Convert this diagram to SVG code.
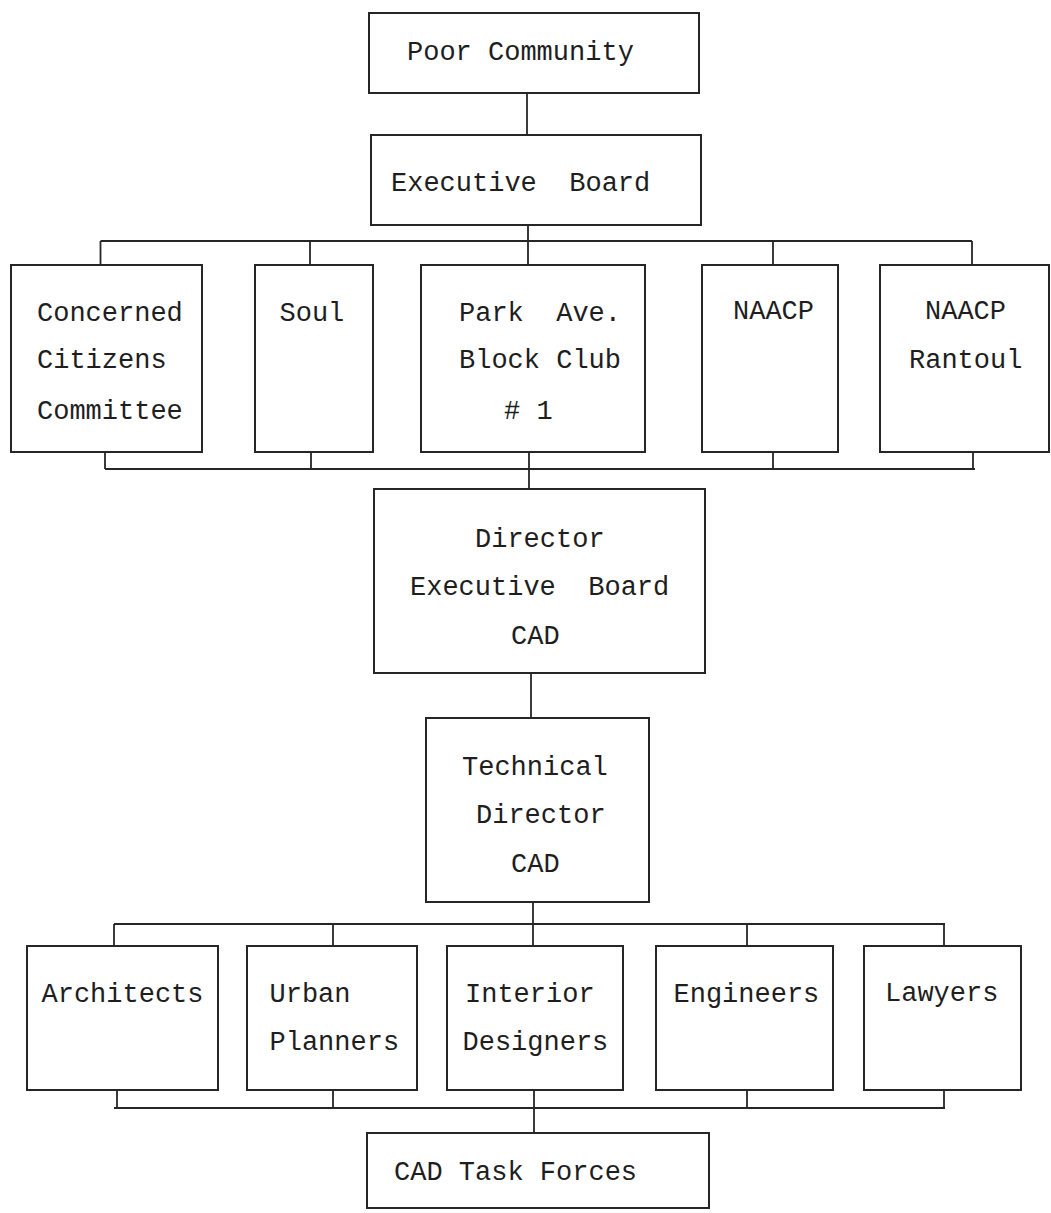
<svg xmlns="http://www.w3.org/2000/svg" width="1051" height="1213" viewBox="0 0 1051 1213">
<style>
.box{fill:none;stroke:#262626;stroke-width:2}
.ln{fill:none;stroke:#262626;stroke-width:1.8}
text{font-family:"Liberation Mono","DejaVu Sans Mono",monospace;font-size:27px;fill:#1e1e1e}
</style>
<rect width="1051" height="1213" fill="#ffffff"/>
<g id="connectors">
<path class="ln" d="M527,93 V135"/>
<path class="ln" d="M528,225 V241 M100.5,241 H972 M100.5,241 V265 M310,241 V265 M528,241 V265 M773,241 V265 M972,241 V265"/>
<path class="ln" d="M105,452 V469 M311,452 V469 M529,452 V469 M773,452 V469 M973,452 V469 M105,469 H975 M529,469 V489"/>
<path class="ln" d="M531,673 V718"/>
<path class="ln" d="M533,902 V924 M114,924 H945 M114,924 V946 M333,924 V946 M533,924 V946 M747,924 V946 M944,924 V946"/>
<path class="ln" d="M117,1090 V1108 M333,1090 V1108 M534,1090 V1108 M747,1090 V1108 M944,1090 V1108 M114,1108 H945 M534,1108 V1133"/>
</g>
<g id="poor-community">
<rect class="box" x="369" y="13" width="330" height="80"/>
<text x="407" y="60">Poor Community</text>
</g>
<g id="executive-board">
<rect class="box" x="371" y="135" width="330" height="90"/>
<text x="391" y="191" xml:space="preserve">Executive  Board</text>
</g>
<g id="concerned-citizens">
<rect class="box" x="11" y="265" width="191" height="187"/>
<text x="37" y="321">Concerned</text>
<text x="37" y="368">Citizens</text>
<text x="37" y="419">Committee</text>
</g>
<g id="soul">
<rect class="box" x="255" y="265" width="118" height="187"/>
<text x="279.5" y="321">Soul</text>
</g>
<g id="park-ave">
<rect class="box" x="421" y="265" width="224" height="187"/>
<text x="459" y="321" xml:space="preserve">Park  Ave.</text>
<text x="459" y="368">Block Club</text>
<text x="504" y="419"># 1</text>
</g>
<g id="naacp">
<rect class="box" x="702" y="265" width="136" height="187"/>
<text x="733" y="319">NAACP</text>
</g>
<g id="naacp-rantoul">
<rect class="box" x="880" y="265" width="169" height="187"/>
<text x="925" y="319">NAACP</text>
<text x="909" y="368">Rantoul</text>
</g>
<g id="director">
<rect class="box" x="374" y="489" width="331" height="184"/>
<text x="475" y="547">Director</text>
<text x="410" y="595" xml:space="preserve">Executive  Board</text>
<text x="511" y="644">CAD</text>
</g>
<g id="technical-director">
<rect class="box" x="426" y="718" width="223" height="184"/>
<text x="462" y="775">Technical</text>
<text x="476" y="823">Director</text>
<text x="511" y="872">CAD</text>
</g>
<g id="architects">
<rect class="box" x="27" y="946" width="191" height="144"/>
<text x="41.5" y="1002">Architects</text>
</g>
<g id="urban-planners">
<rect class="box" x="247" y="946" width="170" height="144"/>
<text x="269.5" y="1002">Urban</text>
<text x="269.5" y="1050">Planners</text>
</g>
<g id="interior-designers">
<rect class="box" x="447" y="946" width="176" height="144"/>
<text x="465" y="1002">Interior</text>
<text x="462.5" y="1050">Designers</text>
</g>
<g id="engineers">
<rect class="box" x="656" y="946" width="177" height="144"/>
<text x="673.5" y="1002">Engineers</text>
</g>
<g id="lawyers">
<rect class="box" x="864" y="946" width="157" height="144"/>
<text x="885" y="1001">Lawyers</text>
</g>
<g id="cad-task-forces">
<rect class="box" x="367" y="1133" width="342" height="75"/>
<text x="394" y="1180">CAD Task Forces</text>
</g>
</svg>
